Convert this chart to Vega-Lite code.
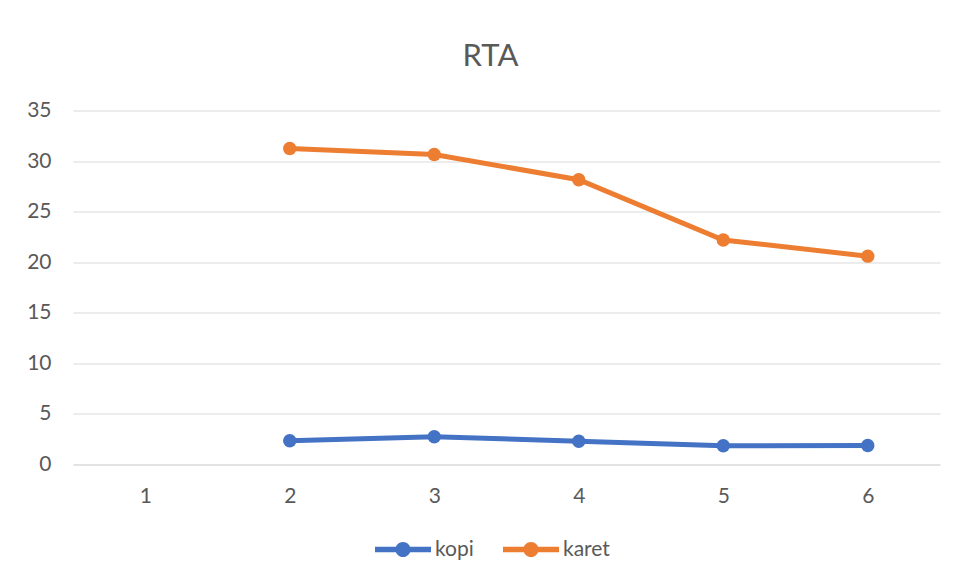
{
  "$schema": "https://vega.github.io/schema/vega-lite/v6.json",
  "autosize": "none",
  "width": 867,
  "height": 354,
  "padding": {"left": 73, "top": 110.5, "right": 15, "bottom": 116.5},
  "background": "white",
  "config": {
    "font": "Lato",
    "view": {"stroke": null},
    "axis": {"labelFont": "Lato", "labelFontSize": 21, "labelColor": "#595959", "gridColor": "#D9D9D9", "gridWidth": 1, "domainColor": "#D9D9D9", "ticks": false, "title": null}
  },
  "title": {
    "text": "RTA",
    "font": "Lato",
    "fontSize": 31,
    "fontWeight": "normal",
    "color": "#595959",
    "anchor": "middle",
    "baseline": "alphabetic",
    "offset": 3,
    "dx": -16
  },
  "data": {
    "values": [
      {"x": 2, "series": "kopi", "value": 2.35},
      {"x": 3, "series": "kopi", "value": 2.75},
      {"x": 4, "series": "kopi", "value": 2.3},
      {"x": 5, "series": "kopi", "value": 1.85},
      {"x": 6, "series": "kopi", "value": 1.88},
      {"x": 2, "series": "karet", "value": 31.25},
      {"x": 3, "series": "karet", "value": 30.65},
      {"x": 4, "series": "karet", "value": 28.15},
      {"x": 5, "series": "karet", "value": 22.2},
      {"x": 6, "series": "karet", "value": 20.6}
    ]
  },
  "encoding": {
    "x": {
      "field": "x",
      "type": "ordinal",
      "scale": {"domain": [1, 2, 3, 4, 5, 6], "padding": 0.5},
      "axis": {"labelAngle": 0, "labelPadding": 21, "grid": false, "domain": true, "labelBaseline": "top"}
    },
    "y": {
      "field": "value",
      "type": "quantitative",
      "scale": {"domain": [0, 35], "nice": false},
      "axis": {"values": [0, 5, 10, 15, 20, 25, 30, 35], "domain": false, "labelPadding": 22, "grid": true}
    },
    "color": {
      "field": "series",
      "type": "nominal",
      "scale": {"domain": ["kopi", "karet"], "range": ["#4472C4", "#ED7D31"]},
      "legend": {
        "title": null,
        "orient": "none",
        "direction": "horizontal",
        "legendX": 302,
        "legendY": 411,
        "symbolType": "M-1,-0.1 H1 V0.1 H-1 Z M0.27,0 A0.27,0.27 0 1 1 -0.27,0 A0.27,0.27 0 1 1 0.27,0 Z",
        "symbolSize": 3136,
        "symbolStrokeWidth": 0,
        "symbolOpacity": 1,
        "labelFont": "Lato",
        "labelFontSize": 21,
        "labelColor": "#595959",
        "labelOffset": 4,
        "columnPadding": 29
      }
    }
  },
  "layer": [
    {
      "mark": {"type": "line", "strokeWidth": 5}
    },
    {
      "mark": {"type": "point", "filled": true, "size": 180, "opacity": 1}
    }
  ]
}
